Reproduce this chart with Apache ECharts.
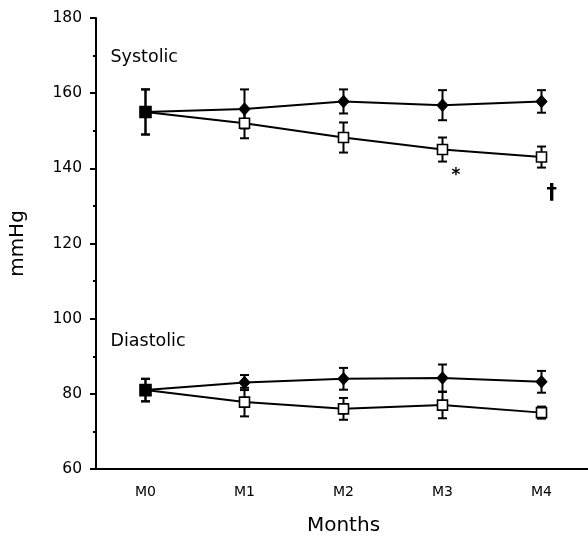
<!DOCTYPE html>
<html><head><meta charset="utf-8">
<script src="https://cdn.jsdelivr.net/npm/echarts@6/dist/echarts.min.js"></script>
<style>html,body{margin:0;padding:0;background:#fff}#c{width:588px;height:539px}</style>
</head><body><div id="c"></div>
<script>
var categories = ['M0','M1','M2','M3','M4'];
var sysFilled = [155, 155.8, 157.8, 156.8, 157.8];
var sysFilledErr = [6, 5.2, 3.2, 4, 3];
var sysOpen = [155, 152, 148.2, 145, 143];
var sysOpenErr = [6, 4, 4, 3.2, 2.8];
var diaFilled = [81, 83, 84, 84.2, 83.2];
var diaFilledErr = [3, 2, 2.9, 3.6, 2.9];
var diaOpen = [81, 77.8, 76, 77, 75];
var diaOpenErr = [3, 3.8, 2.9, 3.5, 1.6];
var yTicks = [60, 80, 100, 120, 140, 160, 180];
var annotations = [
  {text: 'Systolic', cat: 0, val: 169.5, dx: -35, size: 17.5, weight: 'normal'},
  {text: 'Diastolic', cat: 0, val: 94, dx: -35, size: 17.5, weight: 'normal'},
  {text: '*', cat: 3, val: 138.2, dx: 9, size: 17, weight: 'bold'},
  {text: '\u2020', cat: 4, val: 133.3, dx: 5, size: 21, weight: 'bold'}
];
var FONT = '"DejaVu Sans", sans-serif';

function errSeries(vals, errs) {
  return {
    type: 'custom', z: 1,
    data: vals.map(function (v, i) { return [i, v, errs[i]]; }),
    renderItem: function (params, api) {
      var i = api.value(0), v = api.value(1), e = api.value(2);
      var hi = api.coord([i, v + e]), lo = api.coord([i, v - e]);
      var w = 4.5;
      var st = {stroke: '#000', lineWidth: 2};
      return {type: 'group', children: [
        {type: 'line', shape: {x1: hi[0], y1: hi[1], x2: lo[0], y2: lo[1]}, style: st},
        {type: 'line', shape: {x1: hi[0]-w, y1: hi[1], x2: hi[0]+w, y2: hi[1]}, style: st},
        {type: 'line', shape: {x1: lo[0]-w, y1: lo[1], x2: lo[0]+w, y2: lo[1]}, style: st}
      ]};
    }
  };
}
function filledLine(vals) {
  return {type: 'line', z: 3, data: vals, symbol: 'diamond', symbolSize: [11, 12],
    lineStyle: {color: '#000', width: 2}, itemStyle: {color: '#000', borderColor: '#000'}, animation: false};
}
function openLine(vals) {
  return {type: 'line', z: 4, data: vals.map(function (v, i) {
      return i === 0 ? {value: v, itemStyle: {color: '#000'}, symbolSize: 11} : v; }),
    symbol: 'rect', symbolSize: 10,
    lineStyle: {color: '#000', width: 2}, itemStyle: {color: '#fff', borderColor: '#000', borderWidth: 1.6}, animation: false};
}

var chart = echarts.init(document.getElementById('c'));
chart.setOption({
  animation: false,
  grid: {left: 96, top: 18, right: -3, bottom: 70, containLabel: false, outerBoundsMode: 'none'},
  xAxis: {type: 'category', data: categories, boundaryGap: true,
    name: 'Months', nameLocation: 'middle', nameGap: 47,
    nameTextStyle: {fontFamily: FONT, fontSize: 20, color: '#000'},
    axisLine: {lineStyle: {color: '#000', width: 2}},
    axisTick: {alignWithLabel: true, length: 6, lineStyle: {color: '#000', width: 2}},
    axisLabel: {fontFamily: FONT, fontSize: 14, color: '#000', margin: 16},
    splitLine: {show: false}},
  yAxis: {type: 'value', min: 60, max: 180, interval: 20,
    name: 'mmHg', nameLocation: 'middle', nameGap: 68, nameRotate: 90,
    nameTextStyle: {fontFamily: FONT, fontSize: 20, color: '#000'},
    axisLine: {show: true, lineStyle: {color: '#000', width: 2}},
    axisTick: {show: true, length: 6, lineStyle: {color: '#000', width: 2}},
    minorTick: {show: true, splitNumber: 2, length: 3, lineStyle: {color: '#000', width: 2}},
    axisLabel: {fontFamily: FONT, fontSize: 15.5, color: '#000', margin: 14,
      formatter: function (v) { return yTicks.indexOf(v) >= 0 ? String(v) : ''; }},
    splitLine: {show: false}},
  series: [
    errSeries(sysFilled, sysFilledErr), errSeries(sysOpen, sysOpenErr),
    errSeries(diaFilled, diaFilledErr), errSeries(diaOpen, diaOpenErr),
    filledLine(sysFilled), openLine(sysOpen), filledLine(diaFilled), openLine(diaOpen)
  ]
});
var g = annotations.map(function (a) {
  var p = chart.convertToPixel({gridIndex: 0}, [a.cat, a.val]);
  return {type: 'text', x: p[0] + a.dx, y: p[1],
    style: {text: a.text, fontFamily: FONT, fontSize: a.size, fontWeight: a.weight, fill: '#000', verticalAlign: 'middle', align: 'left'}};
});
chart.setOption({graphic: g});
</script></body></html>
